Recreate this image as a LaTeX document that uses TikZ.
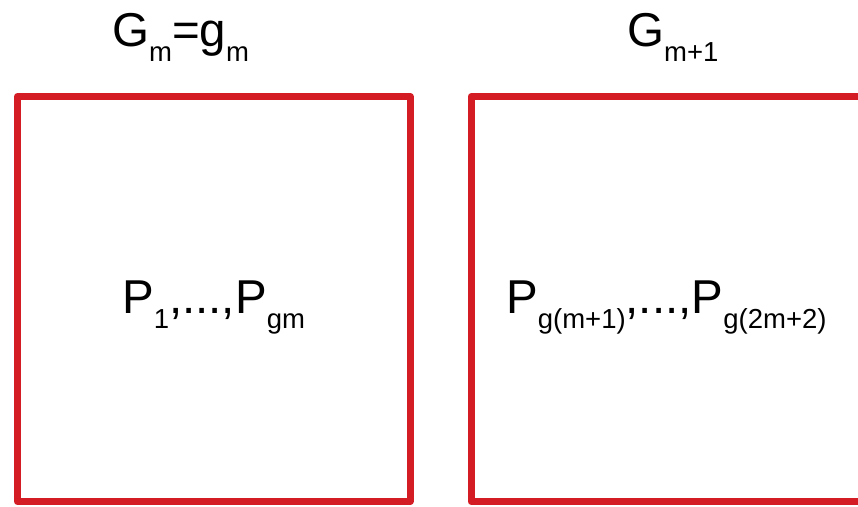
\documentclass[tikz,border=0pt]{standalone}
\usepackage{fontspec}
\setmainfont{Liberation Sans}
\definecolor{boxred}{RGB}{211,28,36}
% lowered, smaller index text
\newcommand{\lowsub}[1]{\raisebox{-15pt}{\fontsize{27.5}{27.5}\selectfont #1}}
\begin{document}
\begin{tikzpicture}[x=1pt,y=1pt,
  frame/.style={draw=boxred,line width=7pt,line join=round},
  caption/.style={inner sep=0pt,font=\fontsize{47.5}{47.5}\selectfont,anchor=base west}]
\useasboundingbox (0,0) rectangle (858,506);
% the two groups
\draw[frame] (17.5,4.5) rectangle (410,409.5);
\draw[frame] (471,4.5) rectangle (920,409.5);
% group names
\node[caption] (gleft) at (112,459) {G\lowsub{m}=g\lowsub{m}};
\node[caption] (gright) at (627,459) {G\lowsub{m+1}};
% members of each group
\node[caption] (pleft) at (122,193) {P\lowsub{1},...,P\lowsub{gm}};
\node[caption] (pright) at (506,193) {P\lowsub{g(m+1)},...,P\lowsub{g(2m+2)}};
\end{tikzpicture}
\end{document}
